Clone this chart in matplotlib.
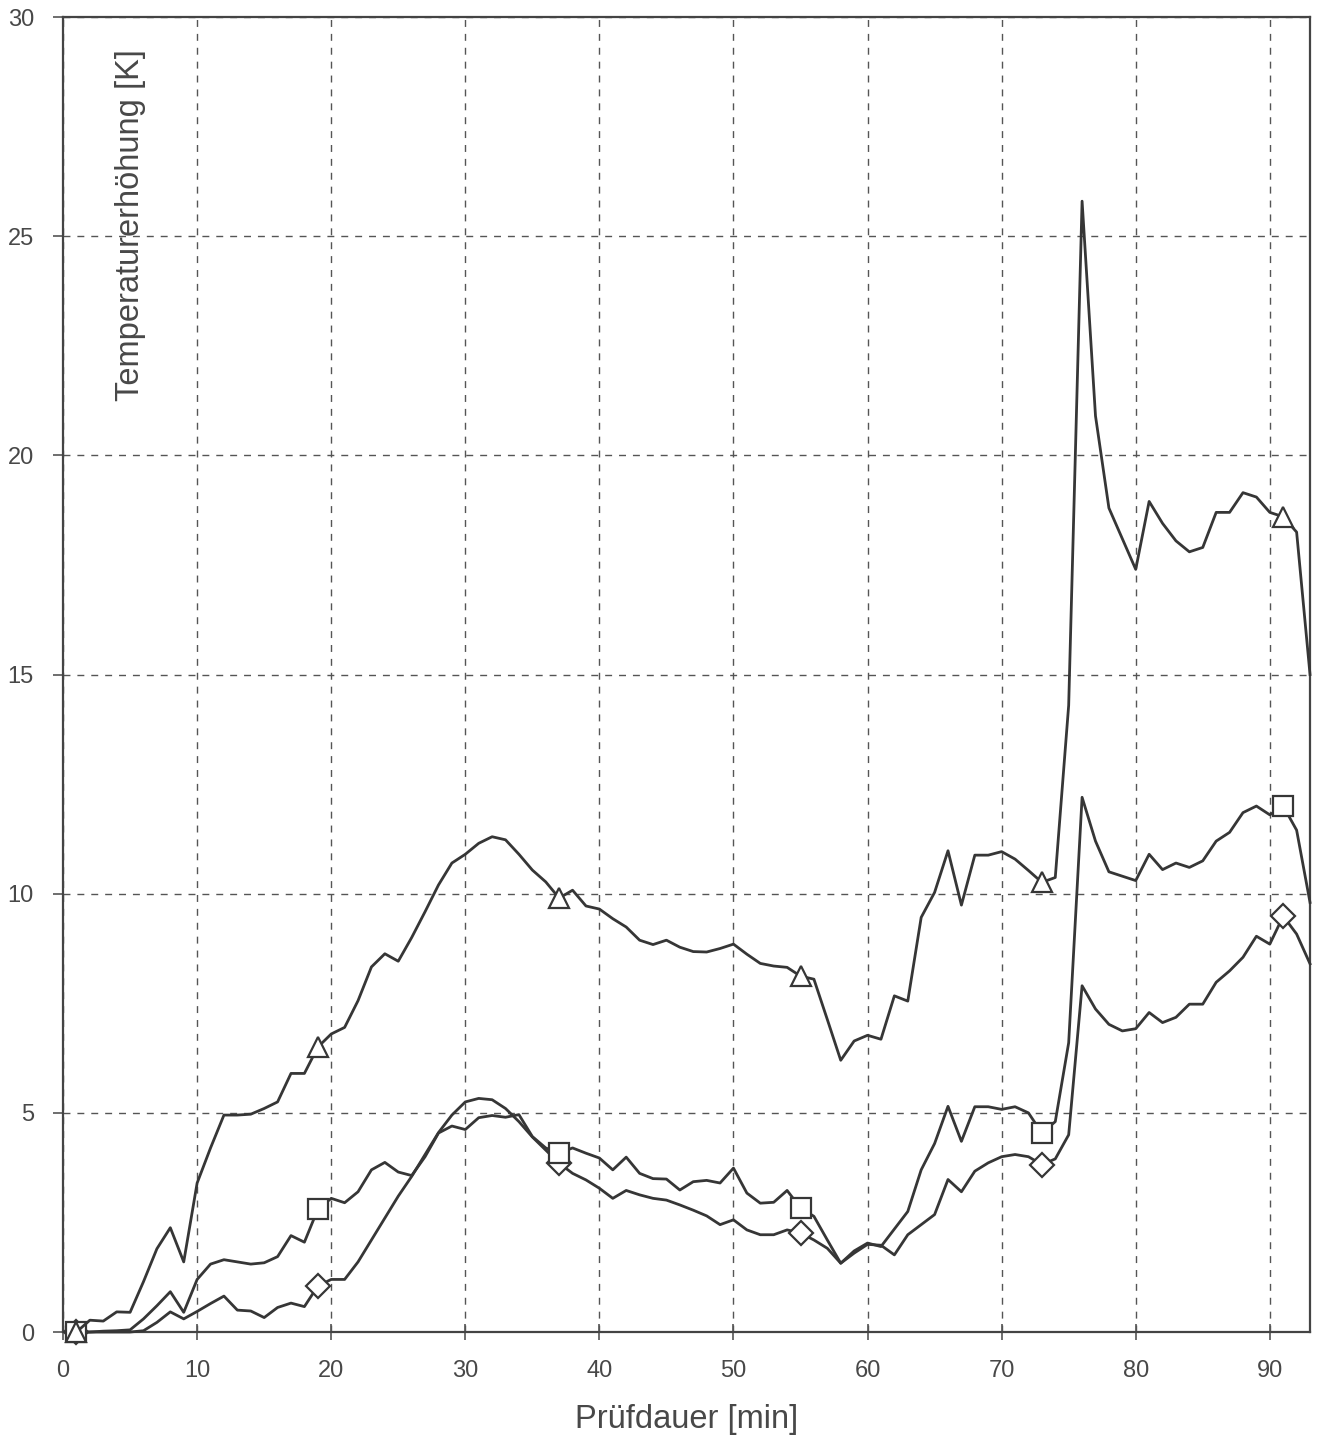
import matplotlib
matplotlib.use("Agg")
import matplotlib.pyplot as plt
import numpy as np

plt.rcParams['font.family'] = ['Liberation Sans', 'DejaVu Sans']

minutes = list(range(1, 94))

triangle = [0, 0.27, 0.25, 0.46, 0.45, 1.15, 1.9, 2.38, 1.6, 3.4,
            4.2, 4.95, 4.95, 4.97, 5.1, 5.25, 5.9, 5.9, 6.5, 6.8,
            6.95, 7.56, 8.33, 8.63, 8.46, 9.0, 9.59, 10.2, 10.7, 10.9,
            11.15, 11.3, 11.23, 10.9, 10.54, 10.27, 9.9, 10.08, 9.72, 9.65,
            9.43, 9.24, 8.94, 8.84, 8.94, 8.78, 8.68, 8.67, 8.75, 8.85,
            8.62, 8.41, 8.35, 8.32, 8.12, 8.05, 7.13, 6.2, 6.64, 6.77,
            6.68, 7.67, 7.55, 9.46, 10.03, 10.98, 9.74, 10.88, 10.88, 10.96,
            10.79, 10.53, 10.26, 10.37, 14.3, 25.8, 20.9, 18.8, 18.1, 17.4,
            18.95, 18.45, 18.05, 17.8, 17.9, 18.7, 18.7, 19.15, 19.05, 18.7,
            18.6, 18.25, 15.0]

square = [0, 0, 0.02, 0.03, 0.05, 0.3, 0.6, 0.92, 0.45, 1.2,
          1.55, 1.65, 1.6, 1.55, 1.58, 1.72, 2.2, 2.05, 2.8, 3.05,
          2.95, 3.2, 3.7, 3.87, 3.65, 3.57, 4.0, 4.54, 4.7, 4.62,
          4.89, 4.94, 4.9, 4.96, 4.46, 4.2, 4.08, 4.2, 4.08, 3.97,
          3.7, 3.99, 3.62, 3.5, 3.49, 3.24, 3.43, 3.46, 3.4, 3.74,
          3.17, 2.94, 2.96, 3.23, 2.83, 2.64, 2.1, 1.57, 1.85, 2.03,
          1.95, 2.35, 2.75, 3.7, 4.3, 5.15, 4.35, 5.14, 5.14, 5.08,
          5.14, 5.0, 4.54, 4.8, 6.6, 12.2, 11.2, 10.5, 10.4, 10.3,
          10.9, 10.55, 10.7, 10.6, 10.75, 11.2, 11.4, 11.85, 12.0, 11.8,
          12.0, 11.45, 9.8]

diamond = [0, 0, 0, 0, 0, 0.03, 0.22, 0.46, 0.3, 0.47,
           0.65, 0.82, 0.5, 0.48, 0.33, 0.56, 0.66, 0.58, 1.05, 1.2,
           1.2, 1.6, 2.1, 2.6, 3.1, 3.55, 4.05, 4.55, 4.95, 5.25,
           5.33, 5.3, 5.1, 4.8, 4.45, 4.15, 3.85, 3.62, 3.47, 3.28,
           3.05, 3.23, 3.13, 3.05, 3.01, 2.9, 2.78, 2.65, 2.45, 2.56,
           2.33, 2.22, 2.22, 2.33, 2.26, 2.1, 1.91, 1.57, 1.8, 2.0,
           1.98, 1.76, 2.22, 2.45, 2.68, 3.48, 3.2, 3.67, 3.86, 4.0,
           4.05, 4.0, 3.82, 3.95, 4.5, 7.9, 7.37, 7.02, 6.87, 6.92,
           7.29, 7.06, 7.18, 7.48, 7.48, 7.98, 8.24, 8.55, 9.03, 8.85,
           9.49, 9.08, 8.4]

x_ticks = [0, 10, 20, 30, 40, 50, 60, 70, 80, 90]
y_ticks = [0, 5, 10, 15, 20, 25, 30]

x_label = "Prüfdauer [min]"
y_label = "Temperaturerhöhung [K]"

line_col = "#363636"
text_col = "#484848"

fig = plt.figure(figsize=(13.19, 14.36), dpi=100)
ax = fig.add_axes([0.0478, 0.0724, 0.9454, 0.9157])

for vals, mk, ms in [(diamond, 'D', 12), (square, 's', 15), (triangle, '^', 15)]:
    ax.plot(minutes, vals, color=line_col, lw=2.0, marker=mk, markersize=ms,
            markevery=18, markerfacecolor='white', markeredgecolor=line_col,
            markeredgewidth=1.6, zorder=3, clip_on=False)

ax.set_xlim(0, 93)
ax.set_ylim(0, 30)
ax.set_xticks(x_ticks)
ax.set_yticks(y_ticks)
ax.grid(True, color="#555555", linestyle=(0, (5, 5)), linewidth=1.0)
ax.set_axisbelow(True)

for s in ax.spines.values():
    s.set_color("#444444")
    s.set_linewidth(1.6)

ax.tick_params(axis='x', direction='inout', length=12, width=1.2, color="#555555",
               labelsize=17, labelcolor=text_col, pad=14)
ax.tick_params(axis='y', direction='out', length=7, width=1.2, color="#555555",
               labelsize=17, labelcolor=text_col, pad=14)

ax.set_xlabel(x_label, fontsize=23.5, color=text_col, labelpad=16)
ax.text(0.054, 0.842, y_label, transform=ax.transAxes, rotation=90,
        ha='center', va='center', fontsize=23.5, color=text_col)

fig.savefig("out.png", dpi=100)
